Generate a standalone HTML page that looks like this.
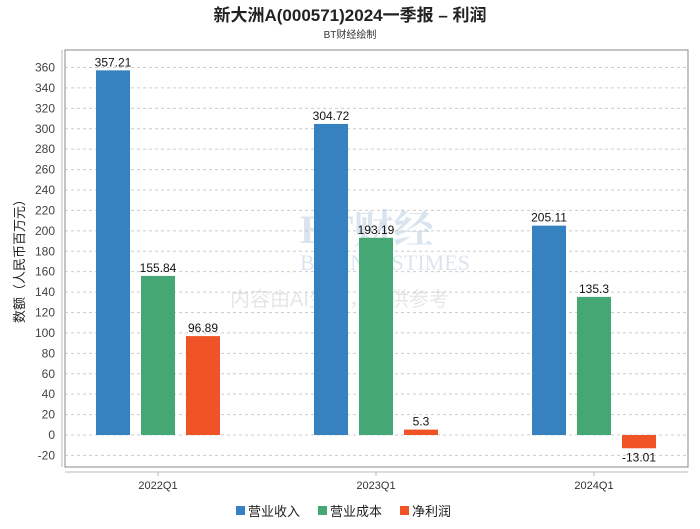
<!DOCTYPE html>
<html><head><meta charset="utf-8"><style>
body{margin:0;background:#fff;font-family:"Liberation Sans","Noto Sans CJK SC",sans-serif;}
</style></head><body>
<svg id="c" width="700" height="524" xmlns="http://www.w3.org/2000/svg" font-family="Liberation Sans, Noto Sans CJK SC, sans-serif">
<text x="350" y="21" text-anchor="middle" font-size="17" font-weight="bold" fill="#222">新大洲A(000571)2024一季报 – 利润</text>
<text x="350" y="38" text-anchor="middle" font-size="10" fill="#333">BT财经绘制</text>
<g opacity="0.18">
<text x="300" y="243" font-size="40" font-weight="bold" font-family="Liberation Serif, Noto Serif CJK SC, serif" fill="#3a6fa8">BT财经</text>
<text x="300" y="270" font-size="22" font-family="Liberation Serif, serif" fill="#3a6fa8">BUSINESSTIMES</text>
<text x="230" y="306" font-size="20" fill="#777">内容由AI生成，仅供参考</text>
</g>
<rect x="65" y="50" width="623" height="417" fill="none" stroke="#888"/>
<line x1="62" y1="50" x2="62" y2="467" stroke="#bbb"/>
<line x1="65" y1="472" x2="688" y2="472" stroke="#bbb"/>
<g id="grid"></g><g id="bars"></g><g id="labels"></g>
<text transform="translate(24,258) rotate(-90)" text-anchor="middle" font-size="13" fill="#222">数额（人民币百万元）</text>
<g id="legend"></g>
</svg>
<script>
const categories=["2022Q1","2023Q1","2024Q1"];
const seriesNames=["营业收入","营业成本","净利润"];
const revenue=[357.21,304.72,205.11];
const cost=[155.84,193.19,135.3];
const profit=[96.89,5.3,-13.01];
const yTicks=[-20,0,20,40,60,80,100,120,140,160,180,200,220,240,260,280,300,320,340,360];
const colors=["#3682c0","#45a874","#f05426"];
const NS="http://www.w3.org/2000/svg";
function y(v){return 435-v*1.0208;}
function xc(i){return 158+218*i;}
function mk(t,a,p,txt){const e=document.createElementNS(NS,t);for(const k in a)e.setAttribute(k,a[k]);if(txt!=null)e.textContent=txt;document.getElementById(p).appendChild(e);return e;}
yTicks.forEach(v=>{
 const l=mk('line',{x1:65,x2:688,y1:y(v),y2:y(v),stroke:'#ccc','stroke-dasharray':'3,3'},'grid');
 
 
 const t=mk('text',{x:55,y:y(v)+4,'text-anchor':'end','font-size':12,fill:'#444'},'grid',v);
 
 
});
const series=[revenue,cost,profit];
categories.forEach((c,i)=>{
 const t=mk('text',{x:xc(i),y:489,'text-anchor':'middle','font-size':11,fill:'#333'},'labels',c);
 
 
 const tk=mk('line',{x1:xc(i),x2:xc(i),y1:472,y2:476,stroke:'#bbb'},'labels');
 
 
 series.forEach((s,j)=>{
  const v=s[i],x=xc(i)-62+45*j;
  const r=mk('rect',{x:x,y:Math.min(y(v),y(0)),width:34,height:Math.abs(y(v)-y(0)),fill:colors[j]},'bars');
  
  
  const ly=v>=0?y(v)-4:y(v)+13;
  const lt=mk('text',{x:x+17,y:ly,'text-anchor':'middle','font-size':12,fill:'#111'},'labels',String(v));
  
  
 });
});
const lx=[236,318,400];
seriesNames.forEach((n,j)=>{
 const r=mk('rect',{x:lx[j],y:506,width:9,height:9,fill:colors[j]},'legend');
 
 
 const t=mk('text',{x:lx[j]+12,y:516,'font-size':13,fill:'#222'},'legend',n);
 
 
});
</script>
</body></html>
